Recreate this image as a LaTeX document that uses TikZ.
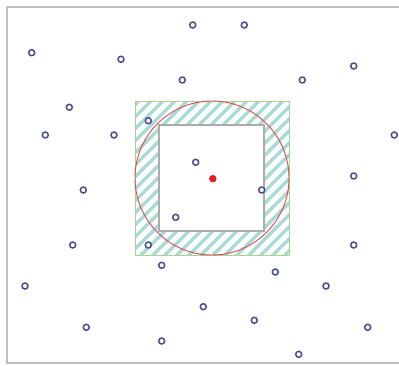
\documentclass[tikz,border=0pt]{standalone}
\begin{document}
\begin{tikzpicture}[x=1pt,y=-1pt,
  pt/.style={circle,draw=ptcol,line width=1.5pt,inner sep=0pt,minimum size=6pt,fill=white},
  frame/.style={draw=framecol,line width=1.4pt}]
\definecolor{ptcol}{HTML}{4B4B8F}
\definecolor{framecol}{HTML}{BDBDBD}
\definecolor{greencol}{HTML}{A9D38E}
\definecolor{graycol}{HTML}{ABABAB}
\definecolor{hatchcol}{HTML}{A9DAD5}
\definecolor{redcol}{HTML}{E04A4A}
\definecolor{dotcol}{HTML}{E01E2A}
\useasboundingbox (0,0) rectangle (399,365);
\coordinate (ftr) at (399,7);
\coordinate (ftl) at (7,7);
\coordinate (fbl) at (7,363);
\coordinate (fbr) at (399,363);
\draw[frame] (ftr) -- (ftl) -- (fbl) -- (fbr);
% hatched annulus
\begin{scope}
  \clip (135,101) rectangle (289,255);
  \foreach \c in {228,240,...,560} {
    \draw[hatchcol,line width=3.2pt] (\c-260,260) -- (\c-96,96);
  }
\end{scope}
\draw[greencol,line width=0.9pt] (135,101) rectangle (289,255);
\fill[white] (159,125) rectangle (264,231);
\draw[graycol,line width=1.8pt] (159,125) rectangle (264,231);
\node[circle,draw=redcol,line width=0.9pt,minimum size=154pt,inner sep=0pt] (circ) at (212,178) {};
\node[circle,fill=dotcol,inner sep=0pt,minimum size=7.5pt] (ctr) at (212.8,178.7) {};
\foreach \x/\y [count=\i] in {192.7/25, 244.3/25, 31.7/52.7, 121/59.3, 182.3/80, 302.3/80, 353.7/66,
  69.3/107.3, 45.3/135, 114/135, 148.3/120.7, 394.3/135, 195.7/162.3, 261.7/190, 353.7/176,
  83.3/190, 175.7/217.3, 72.7/245, 148.3/245, 161.7/265.3, 353.7/245, 275.3/272, 25/286,
  326/286, 203.3/306.7, 254.3/320.3, 86.3/327.3, 367.7/327.3, 161.7/341, 298.7/354.3} {
  \node[pt] (p\i) at (\x,\y) {};
}
\end{tikzpicture}
\end{document}
